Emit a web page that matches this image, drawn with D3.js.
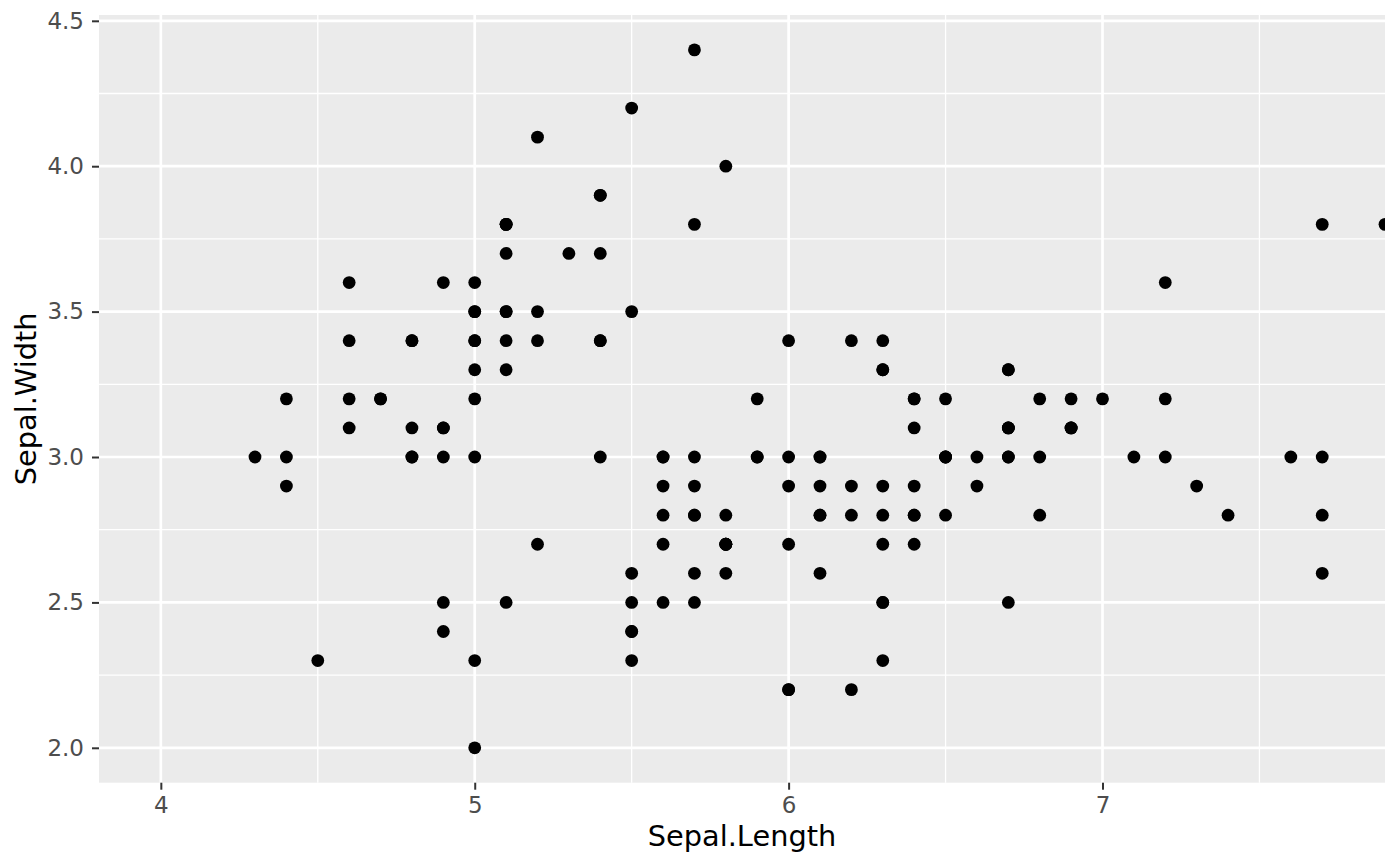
<!DOCTYPE html>
<html>
<head>
<meta charset="utf-8">
<script src="https://cdn.jsdelivr.net/npm/d3@7"></script>
<style>
  body { margin: 0; background: #fff; }
  text { font-family: "DejaVu Sans", sans-serif; }
</style>
</head>
<body>
<div id="chart"></div>
<script>
// iris: Sepal.Length / Sepal.Width
const sepalLength = [
  5.1,4.9,4.7,4.6,5.0,5.4,4.6,5.0,4.4,4.9,5.4,4.8,4.8,4.3,5.8,5.7,5.4,5.1,5.7,5.1,5.4,5.1,4.6,5.1,4.8,5.0,5.0,5.2,5.2,4.7,4.8,5.4,5.2,5.5,4.9,5.0,5.5,4.9,4.4,5.1,5.0,4.5,4.4,5.0,5.1,4.8,5.1,4.6,5.3,5.0,
  7.0,6.4,6.9,5.5,6.5,5.7,6.3,4.9,6.6,5.2,5.0,5.9,6.0,6.1,5.6,6.7,5.6,5.8,6.2,5.6,5.9,6.1,6.3,6.1,6.4,6.6,6.8,6.7,6.0,5.7,5.5,5.5,5.8,6.0,5.4,6.0,6.7,6.3,5.6,5.5,5.5,6.1,5.8,5.0,5.6,5.7,5.7,6.2,5.1,5.7,
  6.3,5.8,7.1,6.3,6.5,7.6,4.9,7.3,6.7,7.2,6.5,6.4,6.8,5.7,5.8,6.4,6.5,7.7,7.7,6.0,6.9,5.6,7.7,6.3,6.7,7.2,6.2,6.1,6.4,7.2,7.4,7.9,6.4,6.3,6.1,7.7,6.3,6.4,6.0,6.9,6.7,6.9,5.8,6.8,6.7,6.7,6.3,6.5,6.2,5.9
]
const sepalWidth = [
  3.5,3.0,3.2,3.1,3.6,3.9,3.4,3.4,2.9,3.1,3.7,3.4,3.0,3.0,4.0,4.4,3.9,3.5,3.8,3.8,3.4,3.7,3.6,3.3,3.4,3.0,3.4,3.5,3.4,3.2,3.1,3.4,4.1,4.2,3.1,3.2,3.5,3.6,3.0,3.4,3.5,2.3,3.2,3.5,3.8,3.0,3.8,3.2,3.7,3.3,
  3.2,3.2,3.1,2.3,2.8,2.8,3.3,2.4,2.9,2.7,2.0,3.0,2.2,2.9,2.9,3.1,3.0,2.7,2.2,2.5,3.2,2.8,2.5,2.8,2.9,3.0,2.8,3.0,2.9,2.6,2.4,2.4,2.7,2.7,3.0,3.4,3.1,2.3,3.0,2.5,2.6,3.0,2.6,2.3,2.7,3.0,2.9,2.9,2.5,2.8,
  3.3,2.7,3.0,2.9,3.0,3.0,2.5,2.9,2.5,3.6,3.2,2.7,3.0,2.5,2.8,3.2,3.0,3.8,2.6,2.2,3.2,2.8,2.8,2.7,3.3,3.2,2.8,3.0,2.8,3.0,2.8,3.8,2.8,2.8,2.6,3.0,3.4,3.1,3.0,3.1,3.1,3.1,2.7,3.2,3.3,3.0,2.5,3.0,3.4,3.0
]
const xTicks = [4, 5, 6, 7]
const xMinor = [4.5, 5.5, 6.5, 7.5]
const yTicks = [2.0, 2.5, 3.0, 3.5, 4.0, 4.5]
const yMinor = [2.25, 2.75, 3.25, 3.75, 4.25]

const width = 1400, height = 866
const margin = { top: 15, right: 15, bottom: 83.3, left: 99 }
const pw = width - margin.left - margin.right
const ph = height - margin.top - margin.bottom

const points = sepalLength.map((d, i) => [d, sepalWidth[i]])

const x = d3.scaleLinear().domain([3.803, 7.9]).range([0, pw])
const y = d3.scaleLinear().domain([1.88, 4.52]).range([ph, 0])

const svg = d3.select("#chart").append("svg")
  .attr("width", width)
  .attr("height", height)

svg.append("defs").append("clipPath").attr("id", "panel-clip")
  .append("rect").attr("width", pw).attr("height", ph)

const g = svg.append("g")
  .attr("transform", "translate(" + margin.left + "," + margin.top + ")")

g.append("rect")
  .attr("width", pw)
  .attr("height", ph)
  .attr("fill", "#EBEBEB")

// minor grid
g.selectAll(".xminor").data(xMinor).enter().append("line")
  .attr("x1", d => x(d)).attr("x2", d => x(d))
  .attr("y1", 0).attr("y2", ph)
  .attr("stroke", "#fff").attr("stroke-width", 1.3)
g.selectAll(".yminor").data(yMinor).enter().append("line")
  .attr("y1", d => y(d)).attr("y2", d => y(d))
  .attr("x1", 0).attr("x2", pw)
  .attr("stroke", "#fff").attr("stroke-width", 1.3)

// major grid
g.selectAll(".xmajor").data(xTicks).enter().append("line")
  .attr("x1", d => x(d)).attr("x2", d => x(d))
  .attr("y1", 0).attr("y2", ph)
  .attr("stroke", "#fff").attr("stroke-width", 2.7)
g.selectAll(".ymajor").data(yTicks).enter().append("line")
  .attr("y1", d => y(d)).attr("y2", d => y(d))
  .attr("x1", 0).attr("x2", pw)
  .attr("stroke", "#fff").attr("stroke-width", 2.7)

g.append("g")
  .attr("clip-path", "url(#panel-clip)")
  .selectAll("circle")
  .data(points)
  .enter()
  .append("circle")
  .attr("cx", d => x(d[0]))
  .attr("cy", d => y(d[1]))
  .attr("r", 6.4)
  .attr("fill", "#000")

// axes
const xAxis = g.append("g")
  .attr("transform", "translate(0," + ph + ")")
  .call(d3.axisBottom(x).tickValues(xTicks).tickFormat(d3.format("d"))
    .tickSizeInner(7).tickSizeOuter(0).tickPadding(7))
const yAxis = g.append("g")
  .call(d3.axisLeft(y).tickValues(yTicks).tickFormat(d3.format(".1f"))
    .tickSizeInner(7).tickSizeOuter(0).tickPadding(8))

;[xAxis, yAxis].forEach(a => {
  a.select(".domain").remove()
  a.selectAll(".tick line").attr("stroke", "#333333").attr("stroke-width", 2)
  a.selectAll(".tick text")
    .attr("fill", "#4D4D4D")
    .style("font-size", "23px")
    .style("font-family", "'DejaVu Sans', sans-serif")
})

svg.append("text")
  .attr("x", margin.left + pw / 2)
  .attr("y", 846)
  .attr("text-anchor", "middle")
  .style("font-size", "28.8px")
  .attr("fill", "#000")
  .text("Sepal.Length")

svg.append("text")
  .attr("transform", "translate(36," + (margin.top + ph / 2) + ") rotate(-90)")
  .attr("text-anchor", "middle")
  .style("font-size", "28.8px")
  .attr("fill", "#000")
  .text("Sepal.Width")
</script>
</body>
</html>
